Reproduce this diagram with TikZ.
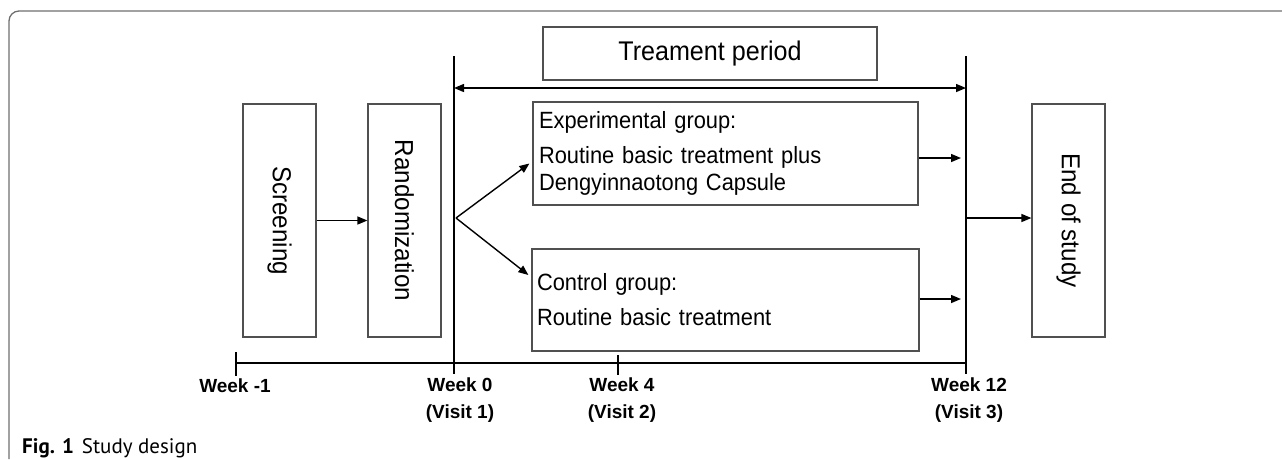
\documentclass[tikz,border=0pt]{standalone}
\usepackage{fontspec}
\setmainfont{Liberation Sans}[FakeStretch=0.93]
\newfontfamily\labelfont{Liberation Sans}
\newfontfamily\capfont{PT Sans}
\usetikzlibrary{arrows.meta}
\usetikzlibrary{positioning}
\usetikzlibrary{calc}
\definecolor{boxgray}{HTML}{505050}
\definecolor{framegray}{HTML}{6E6E6E}
\tikzstyle{tallbox}=[draw=boxgray,line width=1.2pt,minimum width=73pt,minimum height=233pt,inner sep=0pt]
\tikzstyle{groupbox}=[draw=boxgray,line width=1.2pt,inner sep=6pt,minimum height=103pt,text width=373pt,align=left,font=\fontsize{23.5}{27}\selectfont]
\tikzstyle{sidetext}=[rotate=-90,inner sep=0pt,font=\fontsize{26}{30}\selectfont]
\tikzstyle{edge}=[draw,line width=1.4pt,-{Triangle[length=10pt,width=8pt]}]
\tikzstyle{bothedge}=[draw,line width=1.4pt,{Triangle[length=10pt,width=8pt]}-{Triangle[length=10pt,width=8pt]}]
\tikzstyle{weekline}=[draw,line width=1.3pt]
\tikzstyle{timeline}=[draw,line width=2pt]
\tikzstyle{weeklabel}=[font=\labelfont\fontsize{19}{27}\selectfont\bfseries,align=center,inner sep=0pt]

\begin{document}
\begin{tikzpicture}[x=1pt,y=-1pt]
    \useasboundingbox (0,0) rectangle (1282,459);
    % outer frame, open at right and bottom
    \draw[framegray,line width=1.3pt,rounded corners=10pt] (9,459) -- (9,11) -- (1282,11);

    % boxes
    \node[tallbox] (scr) at (279.5,220.5) {};
    \node[tallbox] (rand) at (404.5,220.5) {};
    \node[tallbox] (end) at (1068.5,220.5) {};
    \node[sidetext] (scrtext) at (scr) {Screening};
    \node[sidetext] (randtext) at (rand) {Randomization};
    \node[sidetext] (endtext) at (end) {End of study};

    \node[draw=boxgray,line width=1.2pt,minimum width=334pt,minimum height=53pt,font=\fontsize{27}{30}\selectfont] (treat) at (710,53.5) {Treament period};
    \node[groupbox] (exp) at (725.5,153.5) {Experimental group:\\[8pt]Routine basic treatment plus\\Dengyinnaotong Capsule};
    \node[groupbox,minimum height=102pt,text width=377pt,inner sep=5pt] (ctrl) at (725.5,300) {Control group:\\[8pt]Routine basic treatment};

    % week lines and time axis
    \coordinate (w0top) at (454,56);
    \coordinate (w0bot) at (454,374);
    \coordinate (w12top) at (966,56);
    \coordinate (w12bot) at (966,374);
    \coordinate (tl0) at (236,363);
    \coordinate (fan) at (456,218);
    \path[weekline] (w0top) -- (w0bot);
    \path[weekline] (w12top) -- (w12bot);
    \path[timeline] (tl0) -- (tl0 -| w12top);
    \path[weekline] (236,352) -- (236,376);
    \path[weekline] (618,355) -- (618,375);

    % arrows
    \path[edge] (scr.east) -- (rand.west);
    \path[bothedge] ([yshift=-32pt]w0top) -- ([yshift=-32pt]w12top);
    \path[edge] (fan) -- ([yshift=-10pt,xshift=-3pt]exp.west);
    \path[edge] (fan) -- ([yshift=25pt,xshift=-3pt]ctrl.west);
    \path[edge] ([yshift=-4.5pt]exp.east) -- ([yshift=-4.5pt,xshift=-5pt]exp.east -| w12top);
    \path[edge] ([yshift=1pt]ctrl.east) -- ([yshift=1pt,xshift=-5pt]ctrl.east -| w12top);
    \path[edge] ([yshift=2.5pt]end.west -| w12top) -- ([yshift=2.5pt]end.west);

    % week labels
    \node[weeklabel] (wkm1) at (235,386) {Week -1};
    \node[weeklabel] (wk0) at (460,400) {Week 0\\(Visit 1)};
    \node[weeklabel] (wk4) at (622,400) {Week 4\\(Visit 2)};
    \node[weeklabel] (wk12) at (969,400) {Week 12\\(Visit 3)};

    % caption
    \node[anchor=base west,inner sep=0pt,font=\capfont\fontsize{21}{24}\selectfont] (cap) at (22,453) {\textbf{Fig. 1}\hspace{8pt}Study design};
\end{tikzpicture}
\end{document}
